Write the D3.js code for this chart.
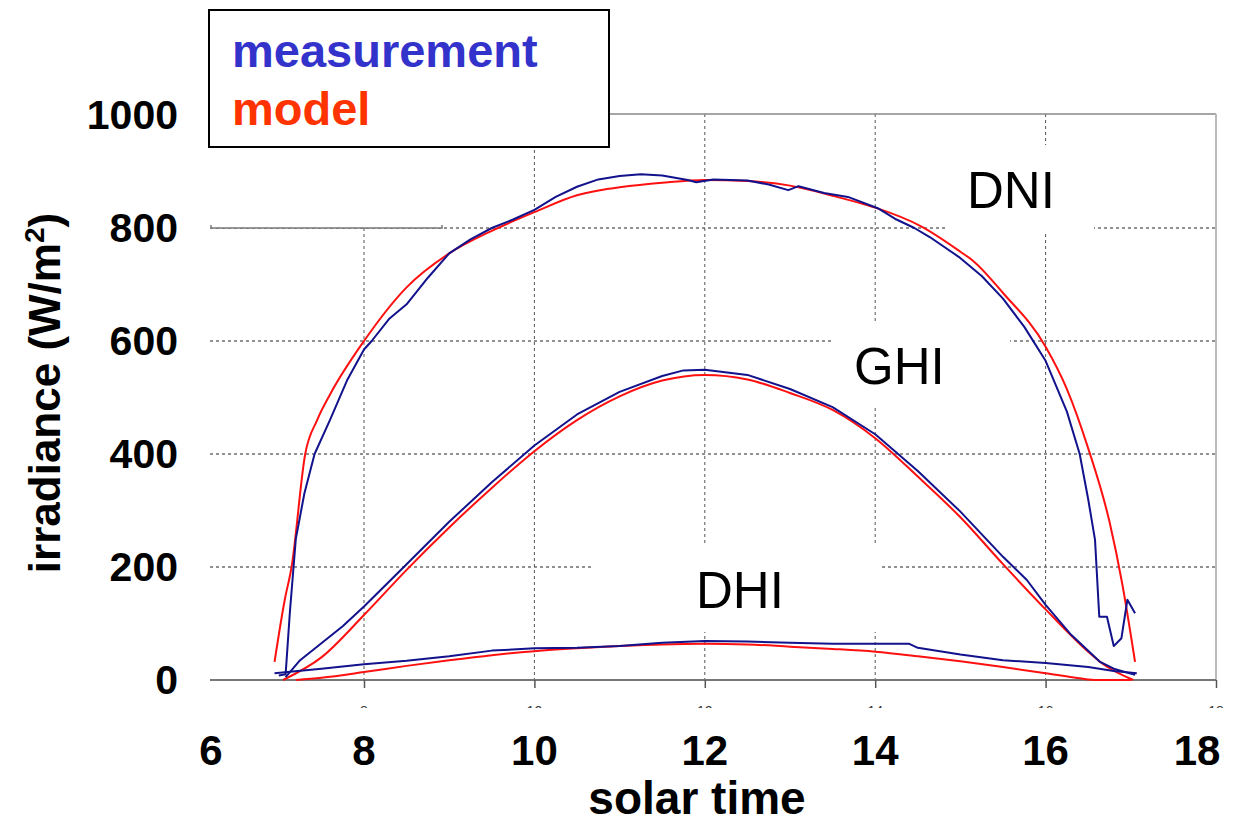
<!DOCTYPE html>
<html>
<head>
<meta charset="utf-8">
<script src="https://cdn.jsdelivr.net/npm/d3@7"></script>
<style>
  body { margin: 0; background: #fff; }
  svg { display: block; font-family: "Liberation Sans", Arial, sans-serif; }
</style>
</head>
<body>
<svg width="1243" height="825"></svg>
<script>
// solar time (h) and irradiance (W/m2)
const dniMeasT = [7.0, 7.08, 7.13, 7.2, 7.3, 7.42, 7.6, 7.8, 8.0, 8.09, 8.3, 8.5, 8.75, 9.0, 9.25, 9.5, 9.75, 10.0, 10.25, 10.5, 10.75, 11.0, 11.25, 11.5, 11.8, 11.9, 12.1, 12.5, 12.75, 12.98, 13.1, 13.4, 13.68, 14.03, 14.25, 14.46, 14.64, 14.98, 15.25, 15.5, 15.75, 16.0, 16.25, 16.4, 16.5, 16.58, 16.63, 16.72, 16.8, 16.89, 16.96, 17.05];
const dniMeas  = [8, 10, 120, 250, 330, 400, 460, 530, 585, 600, 640, 665, 712, 755, 780, 800, 815, 832, 855, 873, 886, 892, 895, 893, 885, 881, 886, 884, 877, 867, 874, 862, 855, 835, 815, 800, 784, 749, 715, 675, 625, 565, 475, 400, 320, 248, 112, 112, 60, 74, 142, 118];

const dniModelT = [6.95, 7.07, 7.15, 7.31, 7.45, 7.6, 8.0, 8.5, 9.0, 9.5, 10.0, 10.5, 10.77, 11.0, 11.5, 12.0, 12.5, 13.0, 13.5, 13.87, 14.0, 14.55, 15.0, 15.14, 15.5, 16.0, 16.25, 16.5, 16.75, 16.9, 17.05];
const dniModel  = [32, 142, 200, 400, 460, 505, 600, 695, 755, 795, 828, 858, 867, 872, 880, 885, 883, 875, 857, 842, 836, 802, 758, 743, 685, 590, 515, 410, 280, 170, 32];

const ghiMeasT = [7.08, 7.25, 7.5, 7.75, 8.0, 8.5, 9.0, 9.5, 10.0, 10.5, 11.0, 11.5, 11.75, 12.0, 12.5, 13.0, 13.5, 14.0, 14.5, 15.0, 15.5, 15.78, 16.0, 16.3, 16.64, 16.8, 17.05];
const ghiMeas  = [5, 35, 65, 95, 130, 205, 280, 350, 415, 470, 510, 538, 548, 549, 540, 515, 483, 435, 370, 298, 218, 177, 133, 80, 32, 20, 9];

const ghiModelT = [7.05, 7.5, 8.0, 8.5, 9.0, 9.5, 10.0, 10.5, 11.0, 11.5, 12.0, 12.5, 13.0, 13.5, 14.0, 14.5, 15.0, 15.5, 16.0, 16.5, 16.64, 17.03];
const ghiModel  = [0, 40, 115, 195, 270, 340, 405, 460, 502, 530, 540, 532, 508, 478, 428, 360, 288, 205, 125, 50, 32, 0];

const dhiMeasT = [6.95, 7.5, 8.0, 8.5, 9.0, 9.5, 10.0, 10.5, 11.0, 11.5, 12.0, 12.5, 13.0, 13.5, 14.0, 14.4, 14.5, 15.0, 15.5, 16.0, 16.5, 16.8, 17.07];
const dhiMeas  = [12, 20, 28, 34, 42, 52, 56, 57, 60, 66, 69, 68, 66, 64, 64, 64, 57, 45, 35, 30, 23, 16, 12];

const dhiModelT = [7.2, 7.5, 8.0, 8.5, 9.0, 9.5, 10.0, 10.5, 11.0, 11.5, 12.0, 12.5, 13.0, 13.5, 14.0, 14.5, 15.0, 15.5, 16.0, 16.4, 16.6, 17.0];
const dhiModel  = [0, 4, 14, 25, 35, 44, 51, 56, 60, 63, 64, 63, 59, 55, 50, 42, 33, 23, 12, 3, 0, 0];

const xTickLabels = [6, 8, 10, 12, 14, 16, 18];
const gridX = [8, 10, 12, 14, 16];
const yTickLabels = [0, 200, 400, 600, 800, 1000];
const gridY = [200, 400, 600, 800];

const blue = "#12128c";
const red = "#ff1010";

const svg = d3.select("svg");

// inner plot: 8h sits at 364px, 18h at the right frame
const x = d3.scaleLinear().domain([8, 18]).range([364, 1216]);
const y = d3.scaleLinear().domain([0, 1000]).range([680, 115]);
const plotLeft = 210, plotRight = 1216, plotTop = 114, plotBottom = 680;

// grid
svg.append("g").selectAll("line")
  .data(gridY).enter().append("line")
  .attr("x1", plotLeft).attr("x2", plotRight)
  .attr("y1", d => y(d)).attr("y2", d => y(d))
  .attr("stroke", "#222").attr("stroke-width", 1).attr("stroke-dasharray", "3,3");

svg.append("g").selectAll("line")
  .data(gridX).enter().append("line")
  .attr("x1", d => x(d)).attr("x2", d => x(d))
  .attr("y1", plotTop).attr("y2", plotBottom)
  .attr("stroke", "#555").attr("stroke-width", 1).attr("stroke-dasharray", "3,3");

// white patches that hide parts of the grid
const patches = [
  [200, 100, 242, 128],   // top left, above 800
  [947, 145, 147, 86],    // DNI
  [833, 322, 177, 85],    // GHI
  [593, 546, 289, 86]     // DHI
];
svg.append("g").selectAll("rect")
  .data(patches).enter().append("rect")
  .attr("x", d => d[0]).attr("y", d => d[1])
  .attr("width", d => d[2]).attr("height", d => d[3])
  .attr("fill", "#fff");

// leftover solid segment at 800
svg.append("path")
  .attr("d", `M211,${y(800) - 3}V${y(800)}H442V${y(800) - 3}`)
  .attr("fill", "none").attr("stroke", "#777").attr("stroke-width", 1.5);

// frame: top and right
svg.append("line").attr("x1", 609).attr("x2", plotRight).attr("y1", plotTop).attr("y2", plotTop)
  .attr("stroke", "#888").attr("stroke-width", 1.5);
svg.append("line").attr("x1", plotRight).attr("x2", plotRight).attr("y1", plotTop).attr("y2", plotBottom)
  .attr("stroke", "#bbb").attr("stroke-width", 2);

// x axis line with ticks
const xAxis = svg.append("g")
  .attr("transform", `translate(0,${plotBottom})`)
  .call(d3.axisBottom(x).tickValues([8, 10, 12, 14, 16, 18]).tickSize(8).tickFormat(""));
xAxis.select(".domain").attr("d", `M${plotLeft},0H${plotRight}`).attr("stroke", "#777").attr("stroke-width", 2);
xAxis.selectAll(".tick line").attr("stroke", "#555").attr("stroke-width", 1.5);

// tiny original tick labels, almost hidden
svg.append("clipPath").attr("id", "tinyclip")
  .append("rect").attr("x", 300).attr("y", 700).attr("width", 943).attr("height", 8);
svg.append("g").attr("clip-path", "url(#tinyclip)")
  .selectAll("text").data([8, 10, 12, 14, 16, 18]).enter().append("text")
  .attr("x", d => x(d)).attr("y", 716)
  .attr("text-anchor", "middle").attr("font-size", 14).attr("fill", "#333")
  .text(d => d);

// curves: model smooth, measurement raw
const lineRaw = d3.line().x(d => x(d[0])).y(d => y(d[1]));
const lineSmooth = d3.line().x(d => x(d[0])).y(d => y(d[1])).curve(d3.curveMonotoneX);
const series = [
  [dhiModelT, dhiModel, red, lineSmooth],
  [ghiModelT, ghiModel, red, lineSmooth],
  [dniModelT, dniModel, red, lineSmooth],
  [dhiMeasT, dhiMeas, blue, lineRaw],
  [ghiMeasT, ghiMeas, blue, lineRaw],
  [dniMeasT, dniMeas, blue, lineRaw]
];
svg.append("g").selectAll("path")
  .data(series).enter().append("path")
  .attr("d", d => d[3](d[0].map((t, i) => [t, d[1][i]])))
  .attr("fill", "none")
  .attr("stroke", d => d[2])
  .attr("stroke-width", 2)
  .attr("stroke-linejoin", "round");

// series labels
svg.append("g").selectAll("text")
  .data([["DNI", 967, 208], ["GHI", 854, 384], ["DHI", 696, 608]])
  .enter().append("text")
  .attr("x", d => d[1]).attr("y", d => d[2])
  .attr("font-size", 51).attr("fill", "#000")
  .text(d => d[0]);

// y tick labels
const yAxis = svg.append("g")
  .attr("transform", `translate(${plotLeft},0)`)
  .call(d3.axisLeft(y).tickValues(yTickLabels).tickFormat(d3.format("d")).tickSize(0).tickPadding(32));
yAxis.select(".domain").remove();
yAxis.selectAll("text")
  .attr("font-family", "'Liberation Sans', Arial, sans-serif")
  .attr("font-size", 41).attr("font-weight", "bold").attr("fill", "#000");

// x tick labels (big ones)
svg.append("g").selectAll("text")
  .data(xTickLabels).enter().append("text")
  .attr("x", d => Math.max(211, Math.min(1197, x(d))))
  .attr("y", 765)
  .attr("text-anchor", "middle")
  .attr("font-size", 42).attr("font-weight", "bold")
  .text(d => d);

// axis titles
svg.append("text")
  .attr("x", 697).attr("y", 814)
  .attr("text-anchor", "middle")
  .attr("font-size", 46).attr("font-weight", "bold")
  .text("solar time");

const yt = svg.append("text")
  .attr("transform", "translate(60,393) rotate(-90)")
  .attr("text-anchor", "middle")
  .attr("font-size", 44).attr("font-weight", "bold");
yt.append("tspan").text("irradiance (W/m");
yt.append("tspan").attr("font-size", 28).attr("dy", -16).text("2");
yt.append("tspan").attr("dy", 16).text(")");

// legend box
svg.append("rect")
  .attr("x", 209).attr("y", 10).attr("width", 400).attr("height", 137)
  .attr("fill", "#fff").attr("stroke", "#000").attr("stroke-width", 2);
svg.append("text").attr("x", 232).attr("y", 67)
  .attr("font-size", 47).attr("font-weight", "bold").attr("fill", "#3333cc")
  .text("measurement");
svg.append("text").attr("x", 232).attr("y", 125)
  .attr("font-size", 47).attr("font-weight", "bold").attr("fill", "#ff3300")
  .text("model");
</script>
</body>
</html>
